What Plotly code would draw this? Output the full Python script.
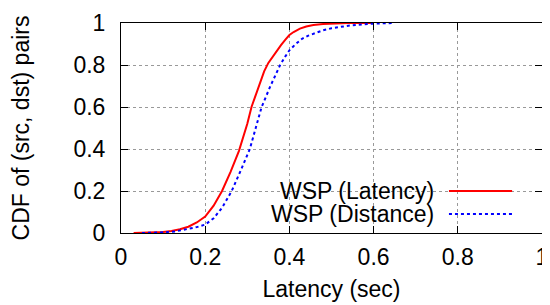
import plotly.graph_objects as go

# Data
lat_x = [0.03, 0.06, 0.08, 0.10, 0.12, 0.14, 0.16, 0.18, 0.20, 0.22, 0.24, 0.26, 0.28,
         0.30, 0.31, 0.32, 0.33, 0.34, 0.35, 0.36, 0.37, 0.38, 0.39, 0.40, 0.41, 0.425,
         0.44, 0.457, 0.48, 0.50, 0.54, 0.60]
lat_cdf = [0, 0.001, 0.002, 0.005, 0.01, 0.018, 0.03, 0.05, 0.078, 0.13, 0.2, 0.29, 0.39,
           0.52, 0.6, 0.66, 0.72, 0.77, 0.81, 0.84, 0.87, 0.895, 0.92, 0.943, 0.957, 0.973,
           0.983, 0.99, 0.995, 0.997, 1.0, 1.0]

dist_x = [0.05, 0.08, 0.10, 0.13, 0.156, 0.18, 0.20, 0.22, 0.24, 0.263, 0.285, 0.306,
          0.32, 0.334, 0.355, 0.378, 0.39, 0.40, 0.415, 0.43, 0.445, 0.46, 0.48, 0.50,
          0.54, 0.60, 0.65]
dist_cdf = [0, 0.001, 0.003, 0.008, 0.018, 0.028, 0.04, 0.07, 0.12, 0.2, 0.3, 0.4,
            0.5, 0.6, 0.7, 0.8, 0.84, 0.87, 0.9, 0.925, 0.94, 0.952, 0.965, 0.975,
            0.987, 0.997, 1.0]

series_names = ["WSP (Latency)", "WSP (Distance)"]
tick_vals = [0, 0.2, 0.4, 0.6, 0.8, 1]
tick_text = ["0", "0.2", "0.4", "0.6", "0.8", "1"]

FONT = "Liberation Sans, Arial, sans-serif"
FS = 23
RED = "#ff0000"
BLUE = "#0000ff"

fig = go.Figure()
fig.add_trace(go.Scatter(x=lat_x, y=lat_cdf, mode="lines", name=series_names[0],
                         line=dict(color=RED, width=2), showlegend=False))
fig.add_trace(go.Scatter(x=dist_x, y=dist_cdf, mode="lines", name=series_names[1],
                         line=dict(color=BLUE, width=2, dash="dot"), showlegend=False))

axis_common = dict(
    range=[0, 1], tickvals=tick_vals, ticktext=tick_text,
    showgrid=True, gridcolor="#999999", griddash="dot", gridwidth=1,
    showline=True, linecolor="black", linewidth=1, mirror="allticks",
    ticks="inside", ticklen=7, tickcolor="black", tickwidth=1,
    zeroline=False, tickfont=dict(family=FONT, size=FS, color="black"),
)

fig.update_xaxes(**axis_common, ticklabelstandoff=3,
                 title=dict(text="Latency (sec)", font=dict(family=FONT, size=FS, color="black"),
                            standoff=12))
fig.update_yaxes(**axis_common, ticklabelstandoff=10,
                 title=dict(text="CDF of (src, dst) pairs", font=dict(family=FONT, size=FS, color="black"),
                            standoff=38))

# legend (gnuplot style: text right-aligned, sample to the right)
shapes = [
    dict(type="rect", xref="paper", yref="paper", x0=0.335, x1=0.948, y0=0.02, y1=0.267,
         fillcolor="white", line=dict(width=0), layer="between"),
    dict(type="line", xref="paper", yref="paper", x0=0.779, x1=0.929, y0=0.2, y1=0.2,
         line=dict(color=RED, width=2)),
    dict(type="line", xref="paper", yref="paper", x0=0.779, x1=0.929, y0=0.0905, y1=0.0905,
         line=dict(color=BLUE, width=2, dash="dot")),
]
annotations = [
    dict(text=series_names[0], xref="paper", yref="paper", x=0.748, y=0.2,
         xanchor="right", yanchor="middle", showarrow=False,
         font=dict(family=FONT, size=FS, color="black")),
    dict(text=series_names[1], xref="paper", yref="paper", x=0.748, y=0.0905,
         xanchor="right", yanchor="middle", showarrow=False,
         font=dict(family=FONT, size=FS, color="black")),
]

# The page body has an 8px margin, so the figure is sized to fit the 550x305 window.
fig.update_layout(
    width=542, height=297,
    margin=dict(l=113, r=8, t=15, b=72, autoexpand=False),
    plot_bgcolor="white", paper_bgcolor="white",
    shapes=shapes, annotations=annotations,
    font=dict(family=FONT, size=FS, color="black"),
)

fig.write_html("out.html")
